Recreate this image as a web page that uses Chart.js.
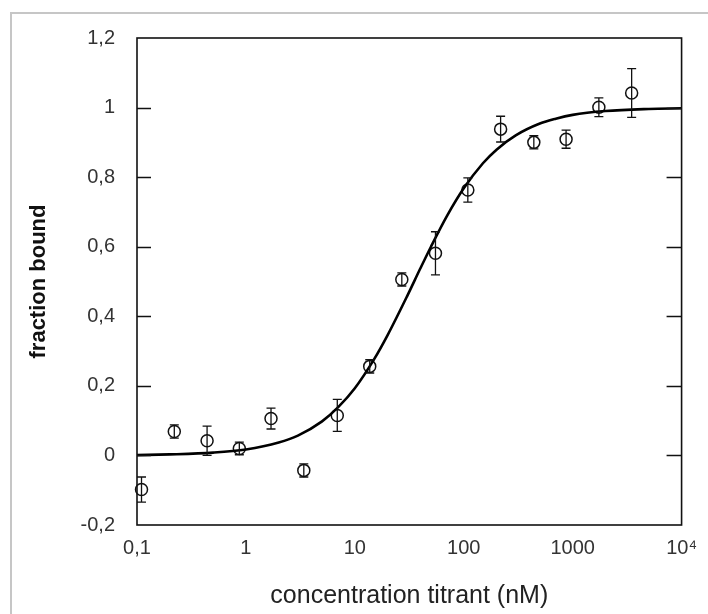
<!DOCTYPE html>
<html>
<head>
<meta charset="utf-8">
<script src="https://cdn.jsdelivr.net/npm/chart.js@4.4.1/dist/chart.umd.min.js"></script>
<style>
  html, body { margin: 0; padding: 0; background: #fff; }
  #wrap { position: relative; width: 708px; height: 614px; overflow: hidden; }
  #frame { position: absolute; left: 10px; top: 12px; width: 720px; height: 620px;
           border-left: 2px solid #c6c6c6; border-top: 2px solid #c6c6c6; }
  #bindingChart { position: absolute; left: 0; top: 0; }
</style>
</head>
<body>
<div id="wrap">
  <div id="frame"></div>
  <canvas id="bindingChart" width="708" height="614"></canvas>
</div>
<script>
// measured points (concentration in nM, fraction bound, error)
const concentrations = [0.11, 0.22, 0.44, 0.87, 1.7, 3.4, 6.9, 13.7, 27, 55, 109, 218, 440, 870, 1740, 3480];
const fractionBound = [-0.098, 0.069, 0.042, 0.020, 0.106, -0.043, 0.115, 0.256, 0.506, 0.581, 0.763, 0.938, 0.900, 0.909, 1.001, 1.042];
const errors = [0.036, 0.019, 0.042, 0.018, 0.030, 0.019, 0.046, 0.019, 0.019, 0.062, 0.035, 0.037, 0.019, 0.026, 0.027, 0.070];

// fitted curve
const fitX = [0.1, 0.2, 0.5, 1, 2, 3, 5, 7, 10, 15, 20, 30, 40, 50, 70, 100, 150, 200, 300, 500, 700, 1000, 2000, 5000, 10000];
const fitY = [0.001, 0.003, 0.008, 0.017, 0.037, 0.057, 0.098, 0.138, 0.193, 0.276, 0.346, 0.456, 0.538, 0.600, 0.688, 0.768, 0.840, 0.879, 0.920, 0.954, 0.968, 0.979, 0.990, 0.996, 0.998];

const xTickValues = [0.1, 1, 10, 100, 1000, 10000];
const xTickLabels = ['0,1', '1', '10', '100', '1000', '10\u2074'];
const yTickValues = [-0.2, 0, 0.2, 0.4, 0.6, 0.8, 1, 1.2];
const yTickLabels = ['-0,2', '0', '0,2', '0,4', '0,6', '0,8', '1', '1,2'];

const errorBars = {
  id: 'errorBars',
  afterDatasetsDraw(chart) {
    const { ctx, scales: { x, y } } = chart;
    ctx.save();
    ctx.strokeStyle = '#111';
    ctx.lineWidth = 1.3;
    concentrations.forEach((c, i) => {
      const px = x.getPixelForValue(c);
      const top = y.getPixelForValue(fractionBound[i] + errors[i]);
      const bot = y.getPixelForValue(fractionBound[i] - errors[i]);
      ctx.beginPath();
      ctx.moveTo(px, top); ctx.lineTo(px, bot);
      ctx.moveTo(px - 4.5, top); ctx.lineTo(px + 4.5, top);
      ctx.moveTo(px - 4.5, bot); ctx.lineTo(px + 4.5, bot);
      ctx.stroke();
    });
    ctx.restore();
  }
};

const plotBox = {
  id: 'plotBox',
  afterDraw(chart) {
    const { ctx, chartArea: a, scales: { y } } = chart;
    ctx.save();
    ctx.strokeStyle = '#111';
    ctx.lineWidth = 1.6;
    ctx.strokeRect(a.left, a.top, a.right - a.left, a.bottom - a.top);
    ctx.lineWidth = 1.3;
    ctx.beginPath();
    yTickValues.slice(1, -1).forEach(v => {
      const py = Math.round(y.getPixelForValue(v)) + 0.5;
      ctx.moveTo(a.left, py); ctx.lineTo(a.left + 14, py);
      ctx.moveTo(a.right - 15, py); ctx.lineTo(a.right, py);
    });
    ctx.stroke();
    ctx.restore();
  }
};

new Chart(document.getElementById('bindingChart'), {
  type: 'scatter',
  data: {
    datasets: [
      {
        type: 'line',
        data: fitX.map((v, i) => ({ x: v, y: fitY[i] })),
        borderColor: '#000',
        borderWidth: 2.6,
        pointRadius: 0,
        cubicInterpolationMode: 'monotone',
        fill: false
      },
      {
        data: concentrations.map((v, i) => ({ x: v, y: fractionBound[i] })),
        pointStyle: 'circle',
        pointRadius: 6,
        pointBorderWidth: 1.5,
        pointBorderColor: '#111',
        pointBackgroundColor: 'rgba(0,0,0,0)',
        clip: false
      }
    ]
  },
  options: {
    responsive: false,
    animation: false,
    layout: { padding: { top: 38, right: 21, left: 0, bottom: 0 } },
    plugins: { legend: { display: false }, tooltip: { enabled: false } },
    scales: {
      x: {
        type: 'logarithmic',
        min: 0.1,
        max: 10000,
        afterBuildTicks: s => { s.ticks = xTickValues.map(v => ({ value: v })); },
        afterFit: s => { s.height = 89; },
        grid: { display: false, drawTicks: false, tickLength: 0 },
        border: { display: false },
        ticks: {
          autoSkip: false, maxRotation: 0, padding: 11,
          color: '#333',
          font: { family: 'Liberation Sans, Arial, sans-serif', size: 20 },
          callback: (v, i) => xTickLabels[i]
        },
        title: {
          display: true,
          text: 'concentration titrant (nM)',
          color: '#222',
          padding: { top: 0, bottom: 3 },
          font: { family: 'Liberation Sans, Arial, sans-serif', size: 25 }
        }
      },
      y: {
        min: -0.2,
        max: 1.2,
        afterBuildTicks: s => { s.ticks = yTickValues.map(v => ({ value: v })); },
        afterFit: s => { s.width = 137; },
        grid: { display: false, drawTicks: false, tickLength: 0 },
        border: { display: false },
        ticks: {
          padding: 22,
          color: '#333',
          font: { family: 'Liberation Sans, Arial, sans-serif', size: 20 },
          callback: (v, i) => yTickLabels[i]
        },
        title: {
          display: true,
          text: 'fraction bound',
          color: '#111',
          padding: { top: 26, bottom: 0 },
          font: { family: 'Liberation Sans, Arial, sans-serif', size: 22, weight: 'bold' }
        }
      }
    }
  },
  plugins: [errorBars, plotBox]
});
</script>
</body>
</html>
